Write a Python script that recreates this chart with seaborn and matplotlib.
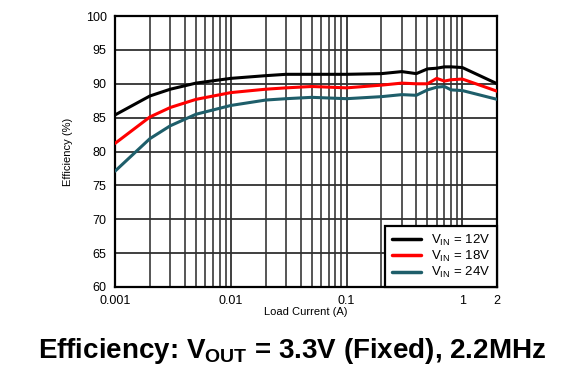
import numpy as np
import pandas as pd
import matplotlib
matplotlib.use("Agg")
import matplotlib.pyplot as plt
import seaborn as sns
from matplotlib.ticker import LogLocator, FixedLocator, NullFormatter

load_current = [0.001, 0.002, 0.003, 0.005, 0.01, 0.02, 0.03, 0.05, 0.1, 0.2,
                0.3, 0.4, 0.5, 0.6, 0.7, 0.8, 1.0, 2.0]
eff_12v = [85.4, 88.2, 89.2, 90.1, 90.8, 91.2, 91.4, 91.4, 91.4, 91.5,
           91.8, 91.5, 92.2, 92.3, 92.5, 92.5, 92.4, 90.0]
eff_18v = [81.2, 85.1, 86.5, 87.7, 88.7, 89.2, 89.4, 89.6, 89.4, 89.8,
           90.1, 90.0, 90.0, 90.8, 90.4, 90.6, 90.7, 88.9]
eff_24v = [77.1, 81.9, 83.8, 85.5, 86.8, 87.6, 87.8, 88.0, 87.8, 88.1,
           88.4, 88.3, 89.1, 89.5, 89.6, 89.1, 89.0, 87.7]

labels = [r"V$_{\mathregular{IN}}$ = 12V", r"V$_{\mathregular{IN}}$ = 18V", r"V$_{\mathregular{IN}}$ = 24V"]
colors = ["#000000", "#ff0000", "#1e5e6a"]

df = pd.DataFrame({
    "Load Current (A)": load_current * 3,
    "Efficiency (%)": eff_12v + eff_18v + eff_24v,
    "Vin": [labels[0]] * len(load_current) + [labels[1]] * len(load_current) + [labels[2]] * len(load_current),
})

sns.set_style("white")
plt.rcParams["font.family"] = ["Liberation Sans", "DejaVu Sans"]
plt.rcParams["mathtext.fontset"] = "custom"
plt.rcParams["mathtext.rm"] = "Liberation Sans"
plt.rcParams["mathtext.bf"] = "Liberation Sans:bold"
for k in ["text.color", "axes.labelcolor", "xtick.color", "ytick.color"]:
    plt.rcParams[k] = "black"

fig = plt.figure(figsize=(5.87, 3.92), dpi=100)
ax = fig.add_axes([0.196, 0.268, 0.651, 0.691])

sns.lineplot(data=df, x="Load Current (A)", y="Efficiency (%)", hue="Vin",
             palette=dict(zip(labels, colors)), linewidth=2.2, ax=ax, zorder=3)

ax.set_xscale("log")
ax.set_xlim(0.001, 2)
ax.set_ylim(60, 100)
ax.set_yticks(np.arange(60, 101, 5))
ax.xaxis.set_major_locator(FixedLocator([0.001, 0.01, 0.1, 1, 2]))
ax.set_xticklabels(["0.001", "0.01", "0.1", "1", "2"])
ax.xaxis.set_minor_locator(LogLocator(base=10, subs=np.arange(2, 10)))
ax.xaxis.set_minor_formatter(NullFormatter())

ax.grid(True, which="major", axis="both", color="#303030", linewidth=1.3)
ax.grid(True, which="minor", axis="x", color="#484848", linewidth=1.3)
ax.tick_params(axis="both", which="both", length=0, labelsize=9)
ax.tick_params(axis="x", pad=6)
ax.tick_params(axis="y", pad=6)
for s in ax.spines.values():
    s.set_linewidth(1.6)
    s.set_color("black")

ax.set_xlabel("Load Current (A)", fontsize=8, labelpad=0)
ax.set_ylabel("Efficiency (%)", fontsize=8, labelpad=9)

leg = ax.legend(loc="lower right", fontsize=9.5, frameon=True, fancybox=False,
                borderaxespad=0, handlelength=2.2, labelspacing=0.1,
                borderpad=0.5, handletextpad=0.8)
leg.get_frame().set_edgecolor("black")
leg.get_frame().set_linewidth(1.6)
leg.get_frame().set_alpha(1)
for line in leg.get_lines():
    line.set_linewidth(2.5)

fig.text(0.497, 0.105, r"Efficiency: V$_{\mathbf{OUT}}$ = 3.3V (Fixed), 2.2MHz",
         ha="center", va="center", fontsize=20, fontweight="bold")

fig.savefig("out.png", dpi=100)
